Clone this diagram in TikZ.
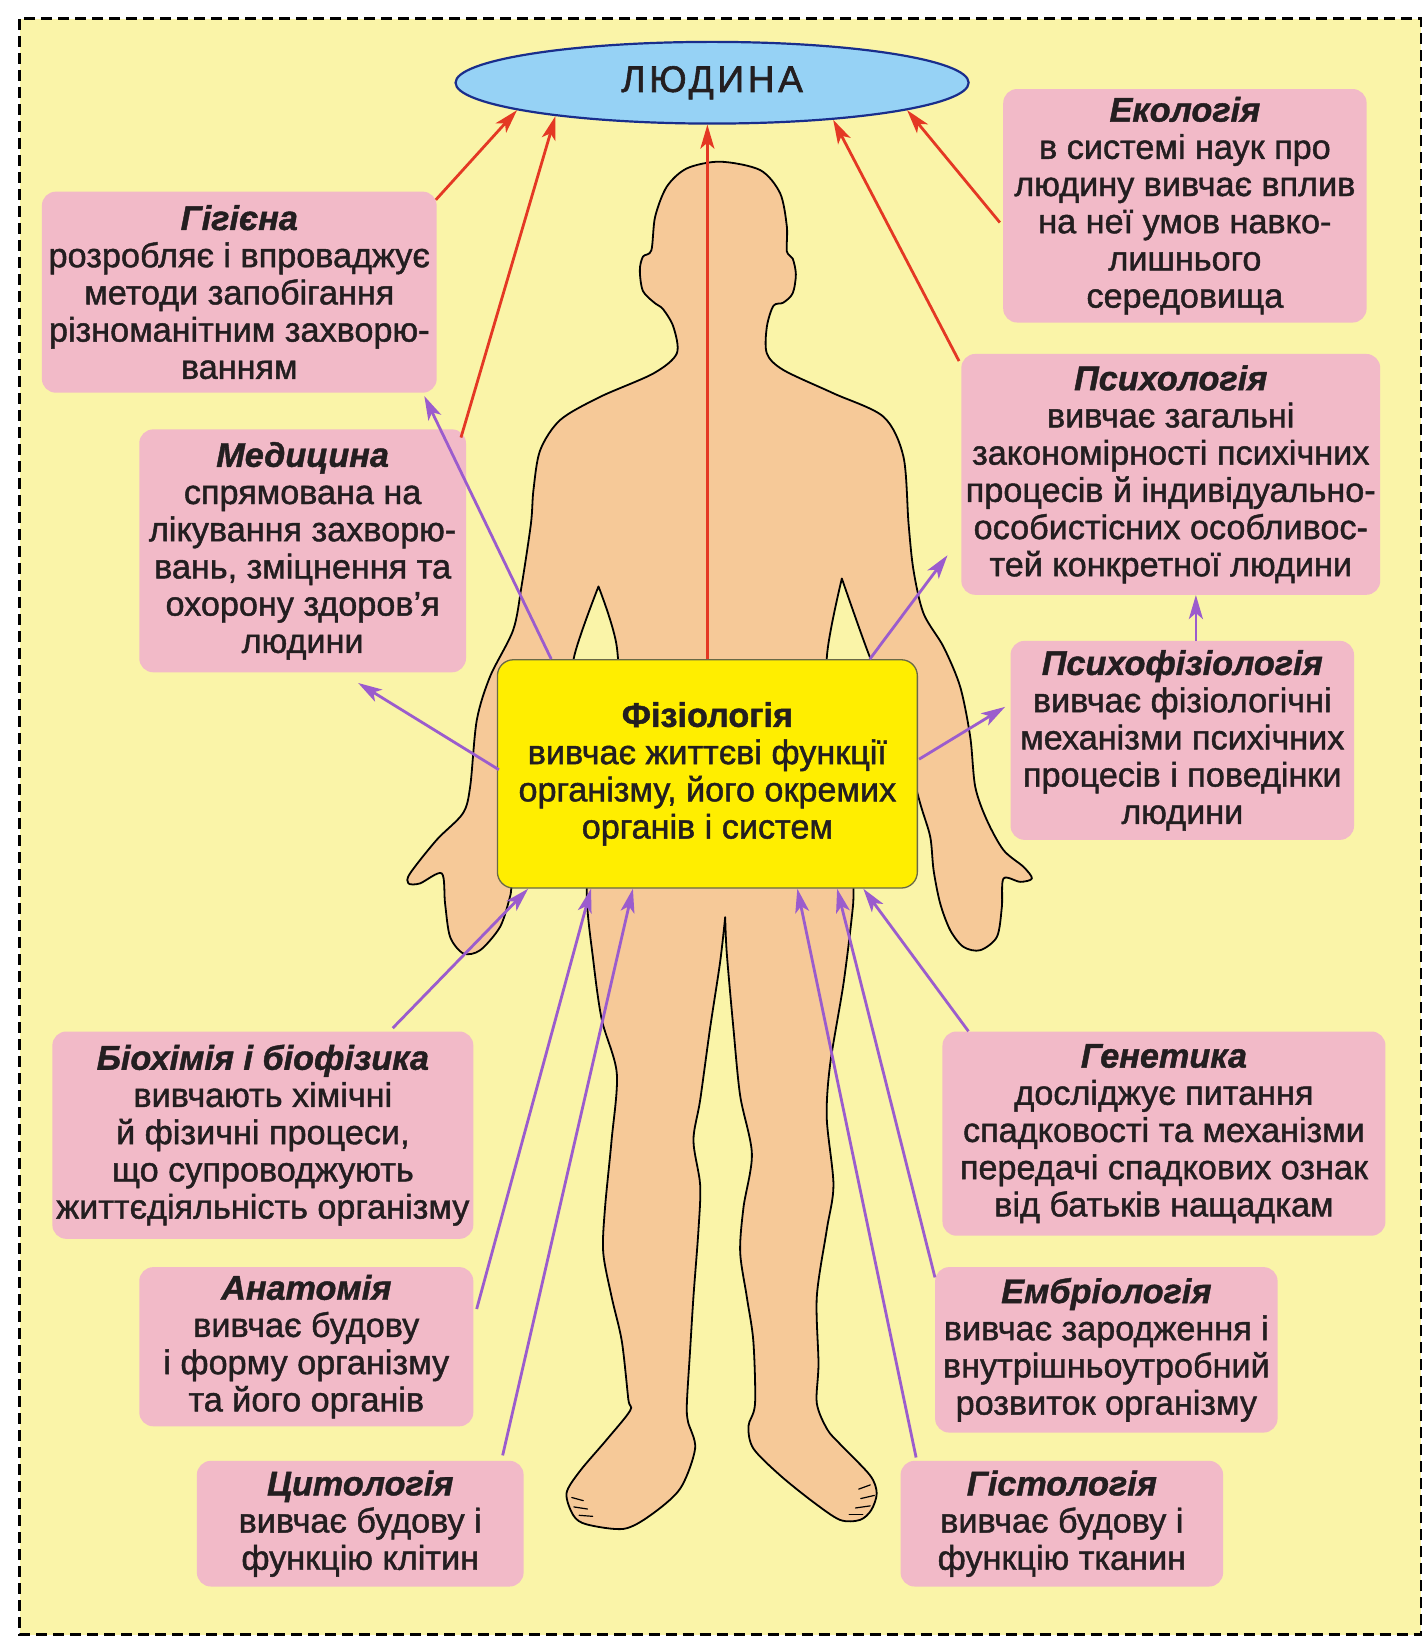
\documentclass[tikz,border=0pt]{standalone}
\usepackage{fontspec}
\setmainfont{Liberation Sans}
\usetikzlibrary{arrows.meta,calc,shapes.geometric}

\definecolor{bgyellow}{RGB}{250,244,168}
\definecolor{pinkbox}{RGB}{242,186,200}
\definecolor{skin}{RGB}{246,201,152}
\definecolor{physfill}{RGB}{255,238,0}
\definecolor{physline}{RGB}{105,105,70}
\definecolor{skyfill}{RGB}{150,210,245}
\definecolor{navy}{RGB}{25,45,140}
\definecolor{arrred}{RGB}{228,56,36}
\definecolor{arrviolet}{RGB}{155,92,205}
\definecolor{ink}{RGB}{35,30,32}

\newcommand\boxtitle[1]{\textbf{\textit{#1}}}
\newcommand\bodyfont{\fontsize{34.2}{37.2}\selectfont\addfontfeature{FakeBold=1.3}}

\tikzset{
  info/.style={fill=pinkbox, rounded corners=14pt, align=center, inner sep=0pt,
    font=\bodyfont},
  boxw/.style={minimum width=#1*1.047pt},
  boxh/.style={minimum height=#1*1.047pt},
  toman/.style={draw=arrred, line width=2.8pt,
    -{Stealth[length=24pt,width=14pt,inset=6pt]}},
  tolink/.style={draw=arrviolet, line width=2.8pt,
    -{Stealth[length=24pt,width=14pt,inset=6pt]}},
  skinline/.style={draw=black, line width=1.8pt, fill=skin, line join=round},
  toe/.style={draw=black, line width=1.2pt, line cap=round}
}

\begin{document}
\begin{tikzpicture}[x=1.047pt,y=-1.047pt, every node/.style={text=ink}]
\useasboundingbox (0,0) rectangle (1362,1568);
\fill[white] (0,0) rectangle (1362,1568);
\fill[bgyellow] (19,18) rectangle (1357,1561);
\draw[black, line width=2.8pt, dash pattern=on 11pt off 6pt] (19,18) rectangle (1357,1561);

% human silhouette
\draw[skinline]
  plot[smooth, tension=0.5] coordinates {
    (571.5,560) (549,624) (535,700) (500,800) (489,845) (487,856.4) (477.6,885)
    (458.5,907.4) (442.5,910.5) (429.8,894.6) (425,862.7) (421.8,834)
    (401,843.6) (390,843.6) (391.6,834) (417,802) (442,776.7) (449,751)
    (455.3,687.7) (468,646) (490,601.7) (498,560) (507,500) (509.4,468)
    (515.8,430) (535,401) (573,379) (624,356.6) (646.3,337.5) (643,312)
    (633,295) (626,290) (614,278) (611,258) (614,245) (622,239)
    (625.6,207) (636.7,178.3) (655.9,160.8) (687.7,154.4) (725.9,162.4)
    (745,184.6) (751.4,216.5) (751.4,240) (757,247) (760,262) (757,280)
    (748,289) (738.6,292) (732.3,312) (732.3,337.5) (748.2,353.4)
    (795.9,375.6) (843.7,398) (862.7,436) (867.6,500) (872.3,544.4)
    (881.9,585.8) (901,617.7) (916.9,655.8) (926.5,703.6) (931.3,751.4)
    (942.4,783.2) (958.3,811.8) (977.4,827.8) (985.4,838.9) (974.2,842.1)
    (958.3,838.9) (956.7,866) (952,894.6) (936,907.4) (920,904.2)
    (907.4,888.3) (897.8,862.7) (891.5,830.9) (888.3,799.1) (878.7,767.2)
    (860,700) (829.3,624) (803.9,552.4)}
  -- plot[smooth, tension=0.5] coordinates {
    (803.9,552.4) (789.6,627.3) (795,700) (812,800) (815,850) (813.4,875.8)
    (805.4,939.8) (792.7,1016.5) (789.5,1067.7) (795.9,1131.6) (789.5,1174.3)
    (780,1238.2) (781.6,1302.2) (780,1340) (790,1365) (802.2,1379)
    (830.8,1408.8) (837.2,1425.9) (832,1442) (821.3,1451.4) (802.2,1451.4)
    (776.7,1434.4) (744.9,1408.8) (719.4,1383.2) (714.7,1361.9) (721,1340.6)
    (719.4,1280.8) (713.1,1238.2) (706.8,1195.6) (710,1152.8) (718,1101.8)
    (706.8,1046.3) (700.4,982.4) (694,910) (692.5,875.8)}
  -- plot[smooth, tension=0.5] coordinates {
    (692.5,875.8) (687.7,918.4) (678,982.4) (668.6,1050.6) (662.2,1089)
    (668.6,1131.6) (667,1174.3) (662.2,1238.2) (659,1289.4) (655.9,1340.6)
    (657,1357.6) (663.8,1383.2) (649.5,1421.6) (620.8,1447.2) (595.3,1460)
    (560.3,1455.7) (547.6,1447.2) (541,1425.9) (554,1404.5) (579.4,1374.7)
    (601.7,1347) (600,1336.2) (593.8,1280.8) (584,1238.2) (576,1195.6)
    (577.8,1152.8) (584,1089) (589,1025) (574.7,973.9) (566.7,918.4)
    (560.3,850.2) (570,780) (590,700) (589,617.6) (571.5,560)}
  -- cycle;
% toes
\draw[toe] (546,1430) -- (557,1433);
\draw[toe] (548,1439) -- (561,1441);
\draw[toe] (553,1447) -- (566,1448);
\draw[toe] (831,1418) -- (820,1422);
\draw[toe] (835,1428) -- (822,1431);
\draw[toe] (831,1438) -- (817,1440);
\draw[toe] (824,1446) -- (811,1446);

% central node: the human being
\node[ellipse, draw=navy, line width=2.2pt, fill=skyfill, inner sep=0pt,
      boxw=490, boxh=78,
      font=\fontsize{37}{40}\selectfont\addfontfeature{LetterSpace=10,FakeBold=1.6}]
  (man) at (680,79) {ЛЮДИНА};

% physiology in the middle
\node[fill=physfill, draw=physline, line width=1.3pt, rounded corners=16pt,
      align=center, inner sep=0pt, boxw=401, boxh=218, font=\bodyfont]
  (phys) at (675.5,739) {\textbf{Фізіологія}\\вивчає життєві функції\\організму, його окремих\\органів і систем};

% surrounding sciences
\node[info, boxw=377, boxh=192] (gig) at (228.5,279)
  {\boxtitle{Гігієна}\\розробляє і впроваджує\\методи запобігання\\різноманітним захворю-\\ванням};
\node[info, boxw=312, boxh=232] (med) at (289,526)
  {\boxtitle{Медицина}\\спрямована на\\лікування захворю-\\вань, зміцнення та\\охорону здоров’я\\людини};
\node[info, boxw=347, boxh=223] (eco) at (1131.5,196.5)
  {\boxtitle{Екологія}\\в системі наук про\\людину вивчає вплив\\на неї умов навко-\\лишнього\\середовища};
\node[info, boxw=400, boxh=230] (psy) at (1118,453)
  {\boxtitle{Психологія}\\вивчає загальні\\закономірності психічних\\процесів й індивідуально-\\особистісних особливос-\\тей конкретної людини};
\node[info, boxw=328, boxh=190] (psyphys) at (1129,707)
  {\boxtitle{Психофізіологія}\\вивчає фізіологічні\\механізми психічних\\процесів і поведінки\\людини};
\node[info, boxw=402, boxh=198] (bio) at (251,1084)
  {\boxtitle{Біохімія і біофізика}\\вивчають хімічні\\й фізичні процеси,\\що супроводжують\\життєдіяльність організму};
\node[info, boxw=319, boxh=152] (anat) at (292.5,1286)
  {\boxtitle{Анатомія}\\вивчає будову\\і форму організму\\та його органів};
\node[info, boxw=312, boxh=120] (cyto) at (344,1455)
  {\boxtitle{Цитологія}\\вивчає будову і\\функцію клітин};
\node[info, boxw=423, boxh=195] (gen) at (1111.5,1082.5)
  {\boxtitle{Генетика}\\досліджує питання\\спадковості та механізми\\передачі спадкових ознак\\від батьків нащадкам};
\node[info, boxw=327, boxh=158] (embr) at (1056.5,1289)
  {\boxtitle{Ембріологія}\\вивчає зародження і\\внутрішньоутробний\\розвиток організму};
\node[info, boxw=308, boxh=120] (hist) at (1014,1455)
  {\boxtitle{Гістологія}\\вивчає будову і\\функцію тканин};

% links to the human being
\draw[toman] ($(gig.north east)+(-1,8)$) -- (man.188.3);
\draw[toman] ($(med.north east)+(-5,8)$) -- (man.192.2);
\draw[toman] (phys.north) -- (phys.north |- man.south);
\draw[toman] ($(psy.north west)+(-2,7)$) -- (man.343.7);
\draw[toman] ($(eco.west)+(-3,16)$) -- (man.352.1);

% links from physiology
\draw[tolink] ($(phys.north west)+(52,0)$) -- ($(gig.south east)+(-12,3)$);
\draw[tolink] ($(phys.west)+(2,-4)$) -- ($(med.south)+(53,10)$);
\draw[tolink] ($(phys.north east)+(-46,0)$) -- ($(psy.south west)+(-13,-38)$);
\draw[tolink] ($(phys.east)+(1,-14)$) -- ($(psyphys.west)+(-5,-32)$);
\draw[tolink] ($(psyphys.north)+(13,0)$) -- ($(psy.south)+(24,0)$);

% links to physiology
\draw[tolink] ($(bio.north)+(124,-3)$) -- ($(phys.south west)+(30,0)$);
\draw[tolink] ($(anat.east)+(3,-36)$) -- ($(phys.south west)+(90,0)$);
\draw[tolink] ($(cyto.north)+(136,-5)$) -- ($(phys.south west)+(130,0)$);
\draw[tolink] ($(hist.north west)+(15,-3)$) -- ($(phys.south west)+(287,0)$);
\draw[tolink] ($(embr.north west)+(0,10)$) -- ($(phys.south west)+(325,0)$);
\draw[tolink] ($(gen.north west)+(25,0)$) -- ($(phys.south west)+(350,0)$);
\end{tikzpicture}
\end{document}
